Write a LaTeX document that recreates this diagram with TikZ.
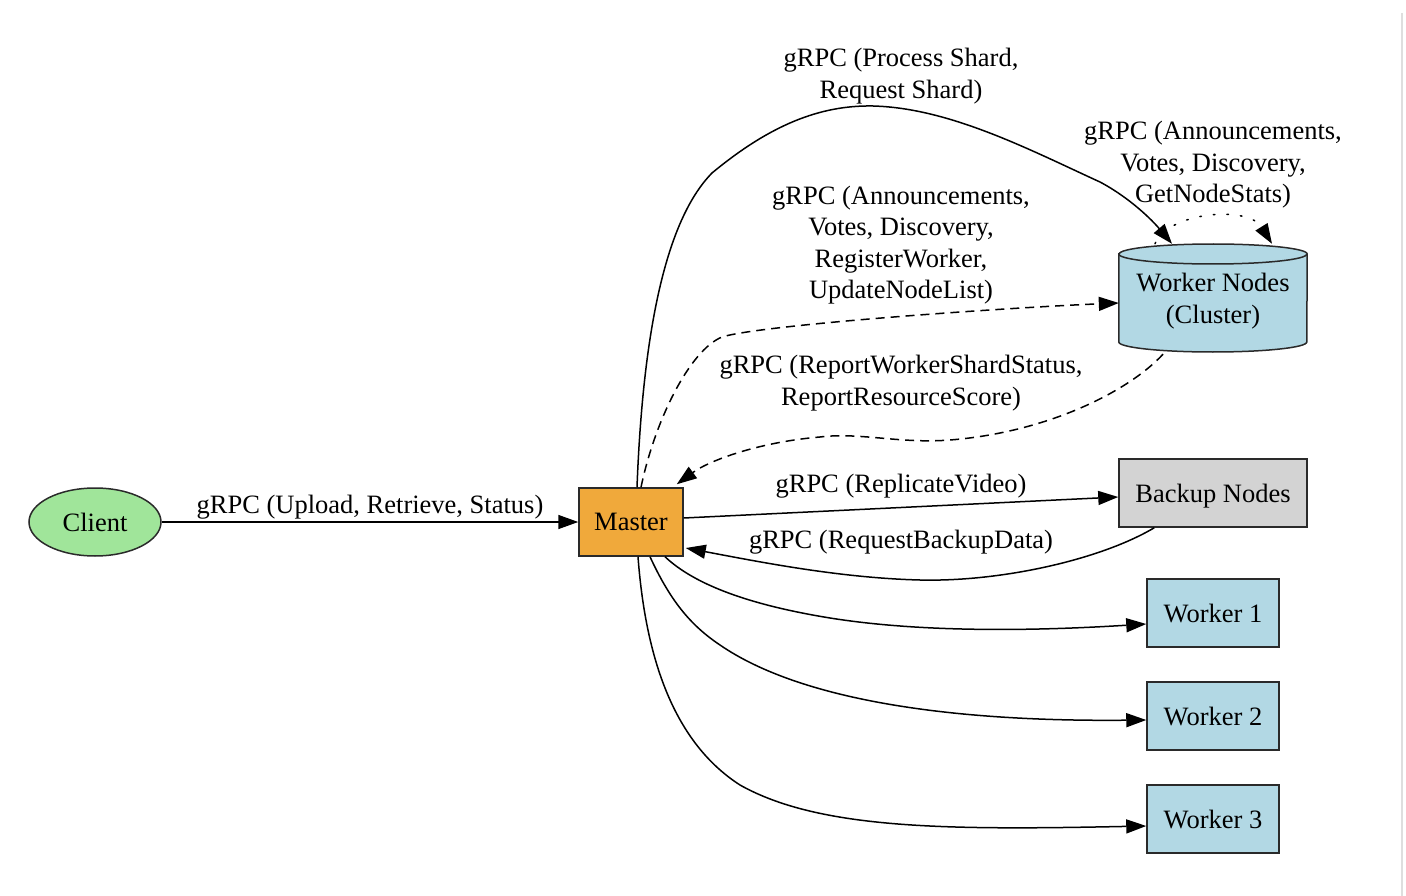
\documentclass[tikz,border=0pt]{standalone}
\usepackage{fontspec}
\setmainfont{Liberation Serif}
\usetikzlibrary{arrows.meta,calc,backgrounds,shapes.geometric}
\definecolor{cgreen}{HTML}{A0E59A}
\definecolor{corange}{HTML}{F0A93B}
\definecolor{cblue}{HTML}{B2D8E4}
\definecolor{cgray}{HTML}{D3D3D3}
\definecolor{cborder}{HTML}{2A2A2A}
\begin{document}
\begin{tikzpicture}[x=1pt,y=-1pt,
  every node/.style={font=\fontsize{26.5}{31.5}\selectfont},
  nodebox/.style={draw=cborder, line width=1.5pt, inner sep=0pt, text depth=0pt},
  lbl/.style={align=center, inner sep=0pt},
  conn/.style={line width=1.5pt, -{Triangle[length=20pt,width=14pt]}},
  dashconn/.style={conn, dash pattern=on 9pt off 6pt},
  dotconn/.style={conn, dash pattern=on 1.6pt off 12pt, line cap=round},
]
\useasboundingbox (0,0) rectangle (1406,896);
\draw[line width=1.5pt, draw=black!13] (1402,13) -- (1402,896);

% nodes
\node[nodebox, ellipse, fill=cgreen, minimum width=132pt, minimum height=68pt] (client) at (95,522) {Client};
\node[nodebox, rectangle, fill=corange, minimum width=104pt, minimum height=68pt] (master) at (631,522) {Master};
\node[rectangle, draw=none, align=center, minimum width=188pt, minimum height=114pt, inner sep=0pt] (wn) at (1213,301) {Worker Nodes\\(Cluster)};
\node[nodebox, rectangle, fill=cgray, minimum width=188pt, minimum height=68pt] (backup) at (1213,493) {Backup Nodes};
\node[nodebox, rectangle, fill=cblue, minimum width=132pt, minimum height=68pt] (w1) at (1213,613) {Worker 1};
\node[nodebox, rectangle, fill=cblue, minimum width=132pt, minimum height=68pt] (w2) at (1213,716) {Worker 2};
\node[nodebox, rectangle, fill=cblue, minimum width=132pt, minimum height=68pt] (w3) at (1213,819) {Worker 3};

% cylinder body for worker nodes
\begin{scope}[on background layer]
  \path[draw=cborder, line width=1.5pt, fill=cblue]
    ($(wn.west)+(0,-47)$) -- ($(wn.west)+(0,41)$)
    arc[start angle=180, end angle=360, x radius=94pt, y radius=10pt]
    -- ($(wn.east)+(0,-47)$)
    arc[start angle=0, end angle=180, x radius=94pt, y radius=10pt] -- cycle;
  \draw[draw=cborder, line width=1.5pt] ($(wn.west)+(0,-47)$)
    arc[start angle=180, end angle=360, x radius=94pt, y radius=10pt];
\end{scope}

% connectors
\draw[conn] (client.east) -- (master.west);
\node[lbl] (l1) at (370,507) {gRPC (Upload, Retrieve, Status)};

\draw[conn] ($(master.north)+(6,0)$)
  .. controls (643,330) and (666,220) .. (712,173)
  .. controls (770,125) and (820,105) .. (873,106)
  .. controls (950,108) and (1030,150) .. (1100,182)
  .. controls (1130,198) and (1152,220) .. ($(wn.north)+(-41,0)$);
\node[lbl] (l2) at (901,76) {gRPC (Process Shard,\\Request Shard)};

\draw[dotconn] ($(wn.north)+(-58,0)$)
  .. controls (1168,212) and (1248,205) .. ($(wn.north)+(59,0)$);
\node[lbl] (l3) at (1213,165) {gRPC (Announcements,\\Votes, Discovery,\\GetNodeStats)};

\draw[dashconn] ($(master.north)+(10,0)$)
  .. controls (655,420) and (690,350) .. (722,337)
  .. controls (760,325) and (1000,308) .. ($(wn.west)+(0,2)$);
\node[lbl] (l4) at (901,245) {gRPC (Announcements,\\Votes, Discovery,\\RegisterWorker,\\UpdateNodeList)};

\draw[dashconn] ($(wn.south)+(-50,-4)$)
  .. controls (1130,390) and (1050,432) .. (950,440)
  .. controls (900,444) and (860,432) .. (820,437)
  .. controls (760,442) and (710,460) .. ($(master.north east)+(-7,-3)$);
\node[lbl] (l5) at (901,383) {gRPC (ReportWorkerShardStatus,\\ReportResourceScore)};

\draw[conn] ($(master.east)+(0,-4)$) -- ($(backup.west)+(0,4)$);
\node[lbl] (l6) at (901,486) {gRPC (ReplicateVideo)};

\draw[conn] ($(backup.south west)+(36,0)$)
  .. controls (1100,560) and (1000,582) .. (920,580)
  .. controls (840,578) and (760,562) .. ($(master.east)+(2,26)$);
\node[lbl] (l7) at (901,542) {gRPC (RequestBackupData)};

\draw[conn] ($(master.south)+(34,0)$)
  .. controls (695,585) and (750,605) .. (830,618)
  .. controls (930,634) and (1050,630) .. ($(w1.west)+(0,11)$);
\draw[conn] ($(master.south)+(19,0)$)
  .. controls (670,600) and (690,625) .. (720,645)
  .. controls (800,700) and (950,722) .. ($(w2.west)+(0,4)$);
\draw[conn] ($(master.south)+(7,0)$)
  .. controls (645,650) and (670,740) .. (740,785)
  .. controls (820,830) and (950,830) .. ($(w3.west)+(0,7)$);
\end{tikzpicture}
\end{document}
